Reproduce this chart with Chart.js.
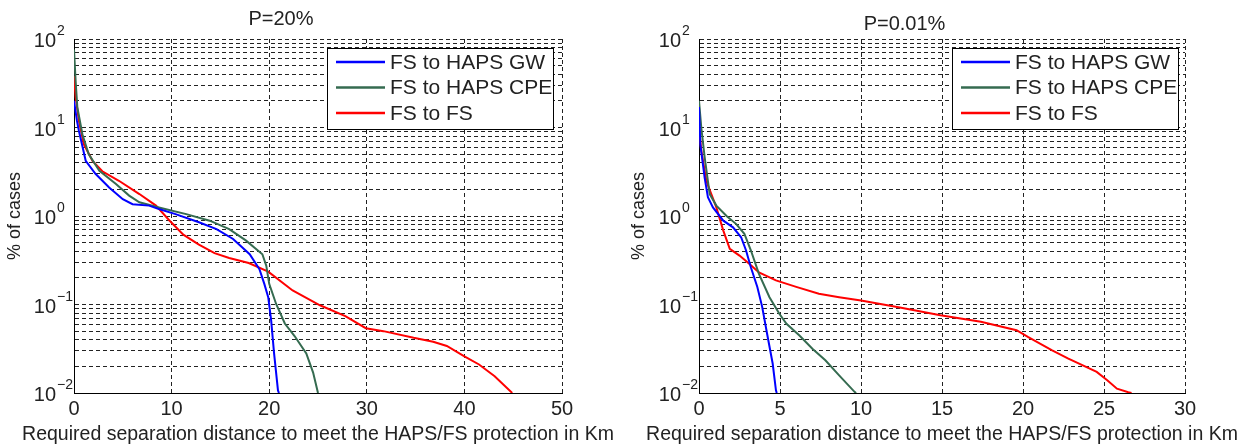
<!DOCTYPE html>
<html>
<head>
<meta charset="utf-8">
<script src="https://cdn.jsdelivr.net/npm/chart.js@4/dist/chart.umd.min.js"></script>
<style>
  html, body { margin: 0; padding: 0; background: #fff; }
  .panel { position: absolute; top: 0; width: 624px; height: 446px; }
  #panelIzq { left: 0; }
  #panelDer { left: 624px; }
</style>
</head>
<body>
<div class="panel" id="panelIzq"><canvas id="graficoP20" width="624" height="446"></canvas></div>
<div class="panel" id="panelDer"><canvas id="graficoP001" width="624" height="446"></canvas></div>
<script>
// P=20% (km, % of cases)
const p20GwDist = [0, 0.3, 0.5, 1.2, 2.2, 3.6, 5, 6, 7.7, 8.7, 10.4, 12.8, 14.6, 16.3, 18, 19, 19.5, 19.9, 20.2, 20.5, 20.9, 21.0];
const p20GwPct = [20, 12, 9.2, 4.2, 3.0, 2.1, 1.55, 1.36, 1.31, 1.2, 1.05, 0.85, 0.71, 0.55, 0.37, 0.25, 0.171, 0.121, 0.066, 0.028, 0.0107, 0.01];
const p20CpeDist = [0, 0.17, 0.34, 0.86, 1.5, 2.6, 4.3, 5.65, 6.7, 8.7, 11.5, 13.9, 15.9, 17.6, 19.3, 19.7, 20, 20.7, 21.6, 22.6, 23.8, 24.5, 25];
const p20CpePct = [76, 33, 17, 8.4, 5, 3.24, 2.3, 1.7, 1.43, 1.25, 1.05, 0.885, 0.71, 0.53, 0.37, 0.275, 0.171, 0.102, 0.061, 0.044, 0.028, 0.017, 0.01];
const p20FsDist = [0, 0.17, 0.5, 1.0, 1.9, 2.9, 4.6, 6.7, 8.4, 9.8, 11.2, 12.8, 14.4, 15.9, 17.9, 19.9, 22.4, 25.2, 27.8, 29.9, 31.7, 34.8, 36.8, 38.2, 40, 41.5, 43.1, 44.9];
const p20FsPct = [38, 22, 12, 6.5, 4.2, 3.2, 2.5, 1.77, 1.31, 0.885, 0.615, 0.474, 0.38, 0.335, 0.294, 0.235, 0.144, 0.098, 0.074, 0.054, 0.05, 0.042, 0.038, 0.034, 0.026, 0.021, 0.0155, 0.01];

// P=0.01%
const p001GwDist = [0, 0.08, 0.35, 0.55, 0.86, 1.5, 2.1, 2.6, 2.9, 3.2, 3.6, 3.9, 4.2, 4.55, 4.75, 4.8];
const p001GwPct = [17, 6.5, 2.7, 1.63, 1.25, 0.885, 0.745, 0.575, 0.41, 0.264, 0.158, 0.094, 0.047, 0.0214, 0.0107, 0.01];
const p001CpeDist = [0, 0.14, 0.35, 0.66, 1.07, 1.7, 2.3, 2.8, 3.2, 3.7, 4.35, 4.96, 5.4, 6.2, 7.0, 7.8, 8.65, 9.6, 9.7];
const p001CpePct = [20, 10, 4.6, 1.77, 1.31, 1.0, 0.81, 0.63, 0.41, 0.222, 0.121, 0.0785, 0.0605, 0.0447, 0.0316, 0.0234, 0.0158, 0.0103, 0.01];
const p001FsDist = [0, 0.14, 0.45, 0.76, 1.07, 1.5, 1.9, 2.5, 3.1, 3.7, 4.75, 6, 7.4, 8.65, 10, 12.4, 14.9, 17.4, 19.6, 20.3, 21.8, 22.8, 24.55, 25.2, 25.8, 26.5, 26.7];
const p001FsPct = [10, 5.5, 2.5, 1.77, 1.25, 0.684, 0.425, 0.357, 0.288, 0.23, 0.187, 0.158, 0.132, 0.121, 0.111, 0.0925, 0.0758, 0.0637, 0.0513, 0.043, 0.0304, 0.0245, 0.0173, 0.0139, 0.0112, 0.0102, 0.01];

const seriesLabels = ['FS to HAPS GW', 'FS to HAPS CPE', 'FS to FS'];
const seriesColors = ['#0000ff', '#356b50', '#ff0000'];
const yGridTicks = [0.01, 0.02, 0.03, 0.04, 0.05, 0.06, 0.07, 0.08, 0.09,
  0.1, 0.2, 0.3, 0.4, 0.5, 0.6, 0.7, 0.8, 0.9,
  1, 2, 3, 4, 5, 6, 7, 8, 9,
  10, 20, 30, 40, 50, 60, 70, 80, 90, 100];
const yDecades = [-2, -1, 0, 1, 2];
const xAxisTitle = 'Required separation distance to meet the HAPS/FS protection in Km';

const fontName = '"Liberation Sans", Arial, sans-serif';
const textColor = '#222';

function toPoints(xs, ys) {
  return xs.map((x, i) => ({ x, y: ys[i] }));
}

// labels 10^n drawn by hand so the exponent sits raised like in MATLAB,
// and the x title drawn without maxWidth (Chart.js squeezes it to the plot width)
const axisText = {
  id: 'axisText',
  afterDraw(chart) {
    const { ctx, chartArea, scales: { y } } = chart;
    ctx.save();
    ctx.fillStyle = textColor;
    ctx.textBaseline = 'alphabetic';
    yDecades.forEach(exp => {
      const py = y.getPixelForValue(Math.pow(10, exp));
      ctx.font = '20px ' + fontName;
      ctx.textAlign = 'right';
      ctx.fillText('10', chartArea.left - 18, py + 8);
      ctx.font = '14px ' + fontName;
      ctx.textAlign = 'left';
      ctx.fillText(String(exp).replace('-', '\u2212'), chartArea.left - 17, py - 4);
    });
    ctx.font = '19.5px ' + fontName;
    ctx.textAlign = 'center';
    ctx.textBaseline = 'middle';
    ctx.fillText(xAxisTitle, (chartArea.left + chartArea.right) / 2, chart.height - 11);
    ctx.restore();
  }
};

const boxLegend = {
  id: 'boxLegend',
  afterDatasetsDraw(chart, args, opts) {
    const { ctx, chartArea } = chart;
    const w = 226, h = 81;
    const x0 = chartArea.right - opts.right - w;
    const y0 = chartArea.top + 9;
    ctx.save();
    ctx.fillStyle = '#fff';
    ctx.fillRect(x0, y0, w, h);
    ctx.strokeStyle = '#000';
    ctx.lineWidth = 1;
    ctx.strokeRect(x0 + 0.5, y0 + 0.5, w, h);
    ctx.font = '21px ' + fontName;
    ctx.textBaseline = 'middle';
    ctx.textAlign = 'left';
    chart.data.datasets.forEach((ds, i) => {
      const yy = y0 + 14 + i * 25.5;
      ctx.strokeStyle = ds.borderColor;
      ctx.lineWidth = 2.5;
      ctx.beginPath();
      ctx.moveTo(x0 + 9, yy);
      ctx.lineTo(x0 + 58, yy);
      ctx.stroke();
      ctx.fillStyle = textColor;
      ctx.fillText(ds.label, x0 + 63, yy + 1);
    });
    ctx.restore();
  }
};

function makeChart(canvasId, titulo, series, xMax, xStep, cfg) {
  const ctx = document.getElementById(canvasId).getContext('2d');
  return new Chart(ctx, {
    type: 'line',
    data: {
      datasets: series.map((pts, i) => ({
        label: seriesLabels[i],
        data: pts,
        borderColor: seriesColors[i],
        backgroundColor: seriesColors[i],
        borderWidth: 2,
        pointRadius: 0,
        tension: 0,
        fill: false
      }))
    },
    options: {
      responsive: false,
      animation: false,
      layout: { padding: { left: 0, right: cfg.padRight, top: 0, bottom: 0 } },
      plugins: {
        legend: { display: false },
        tooltip: { enabled: false },
        title: {
          display: true,
          text: titulo,
          color: textColor,
          font: { family: fontName, size: 20, weight: 'normal' },
          padding: { top: cfg.titleTop, bottom: cfg.titleBottom }
        },
        boxLegend: { right: cfg.legendRight }
      },
      scales: {
        x: {
          type: 'linear',
          min: 0,
          max: xMax,
          ticks: {
            stepSize: xStep,
            color: textColor,
            padding: 4,
            maxRotation: 0,
            font: { family: fontName, size: 20 }
          },
          grid: { color: '#222', lineWidth: 1, drawTicks: false },
          border: { display: true, color: '#000', width: 1, dash: [4, 3] },
          title: { display: false },
          afterFit(scale) { scale.height = 53; }
        },
        y: {
          type: 'logarithmic',
          min: 0.01,
          max: 100,
          afterBuildTicks(scale) {
            scale.ticks = yGridTicks.map(v => ({ value: v }));
          },
          ticks: { display: false },
          grid: { color: '#222', lineWidth: 1, drawTicks: false },
          border: { display: true, color: '#000', width: 1, dash: [4, 3] },
          title: {
            display: true,
            text: '% of cases',
            color: textColor,
            font: { family: fontName, size: 18 },
            padding: { top: 4, bottom: 0 }
          },
          afterFit(scale) { scale.width = cfg.axisWidth; }
        }
      }
    },
    plugins: [axisText, boxLegend]
  });
}

makeChart('graficoP20', 'P=20%', [
  toPoints(p20GwDist, p20GwPct),
  toPoints(p20CpeDist, p20CpePct),
  toPoints(p20FsDist, p20FsPct)
], 50, 10, { padRight: 62, axisWidth: 74, titleTop: 7, titleBottom: 8, legendRight: 9 });

makeChart('graficoP001', 'P=0.01%', [
  toPoints(p001GwDist, p001GwPct),
  toPoints(p001CpeDist, p001CpePct),
  toPoints(p001FsDist, p001FsPct)
], 30, 5, { padRight: 63, axisWidth: 75, titleTop: 12, titleBottom: 3, legendRight: 7 });
</script>
</body>
</html>
